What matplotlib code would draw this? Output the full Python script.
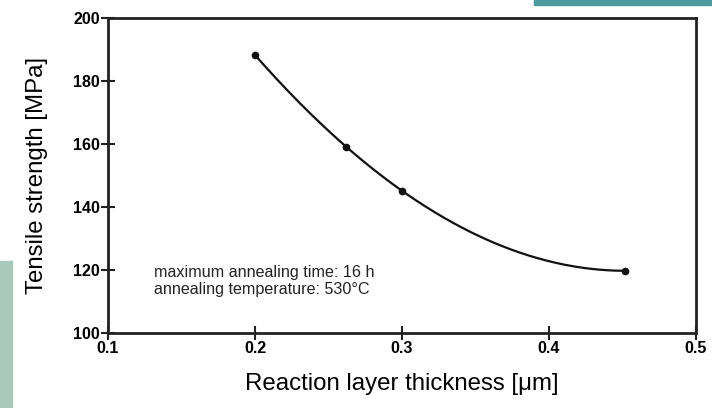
import numpy as np
import matplotlib

matplotlib.use("Agg")
import matplotlib.pyplot as plt
from matplotlib.patches import Rectangle

thickness = [0.2, 0.262, 0.3, 0.452]
strength = [188.1, 159.0, 145.0, 119.6]

x_ticks = [0.1, 0.2, 0.3, 0.4, 0.5]
y_ticks = [100, 120, 140, 160, 180, 200]

plt.rcParams["font.family"] = ["Liberation Sans", "DejaVu Sans"]

fig = plt.figure(figsize=(7.12, 4.08), dpi=100)
# faint background bits of the source slide
fig.patches.append(Rectangle((0, 0), 0.017, 0.36, transform=fig.transFigure,
                             color="#a9c9bc", zorder=0))
fig.patches.append(Rectangle((0.75, 0.988), 0.25, 0.012, transform=fig.transFigure,
                             color="#4f9a9e", zorder=0))

ax = fig.add_axes([0.1517, 0.185, 0.8258, 0.772])

# smooth curve through the measured points
coef = np.polyfit(thickness, strength, 3)
xs = np.linspace(min(thickness), max(thickness), 200)
ax.plot(xs, np.polyval(coef, xs), color="#111111", lw=1.6)
ax.plot(thickness, strength, "o", color="#111111", ms=4.5)

ax.set_xlim(0.1, 0.5)
ax.set_ylim(100, 200)
ax.set_xticks(x_ticks)
ax.set_yticks(y_ticks)
ax.set_xticklabels([f"{t:g}" for t in x_ticks], fontweight="bold", fontsize=11.5)
ax.set_yticklabels([str(t) for t in y_ticks], fontweight="bold", fontsize=11.5)
ax.tick_params(direction="inout", length=10, width=1.5, pad=1, color="#222222")

for sp in ax.spines.values():
    sp.set_linewidth(2)
    sp.set_color("#222222")

ax.set_xlabel("Reaction layer thickness [\u03bcm]", fontsize=17.3, labelpad=12)
ax.set_ylabel("Tensile strength [MPa]", fontsize=17.3, labelpad=18)

ax.text(0.078, 0.215, "maximum annealing time: 16 h\nannealing temperature: 530\u00b0C",
        transform=ax.transAxes, fontsize=11.6, color="#222222",
        va="top", ha="left", linespacing=1.15)

fig.savefig("out.png", dpi=100)
